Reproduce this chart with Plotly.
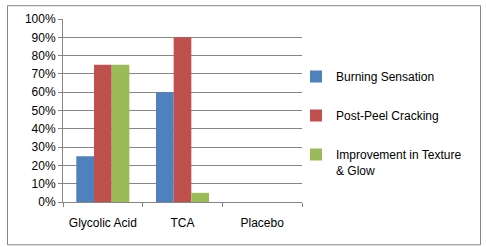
import plotly.graph_objects as go

categories = ["Glycolic Acid", "TCA", "Placebo"]
series_names = ["Burning Sensation", "Post-Peel Cracking", "Improvement in Texture<br>& Glow"]
burning = [0.25, 0.60, 0.0]
cracking = [0.75, 0.90, 0.0]
improvement = [0.75, 0.05, 0.0]
tick_vals = [i / 10 for i in range(11)]
tick_text = [f"{i*10}%" for i in range(11)]

colors = ["#4F81BD", "#C0504D", "#9BBB59"]

W, H = 486, 247
L, R, T, B = 63, 302, 16, 202

fig = go.Figure()
for name, vals, c in zip(series_names, [burning, cracking, improvement], colors):
    fig.add_trace(go.Bar(x=categories, y=vals, name=name, marker=dict(color=c, line=dict(width=0)),
                         legendgroup=name))

pw, ph = R - L, B - T
def px_x(x):
    return (x - L) / pw
def px_y(y):
    return (B - y) / ph

fig.update_layout(
    width=W, height=H,
    margin=dict(l=L, r=W - R, t=T, b=H - B, pad=0),
    paper_bgcolor="white", plot_bgcolor="white",
    barmode="group", bargap=0.334, bargroupgap=0,
    font=dict(family="Liberation Sans, Arial, sans-serif", size=12, color="#000000"),
    showlegend=True,
    legend=dict(x=px_x(296), y=px_y(60), xanchor="left", yanchor="top",
                tracegroupgap=20, itemwidth=30, valign="top",
                font=dict(size=12), bgcolor="rgba(0,0,0,0)"),
    xaxis=dict(showline=True, linecolor="#868686", linewidth=1, ticks="outside",
               tickson="boundaries", ticklen=4, tickcolor="#868686",
               showgrid=False, tickfont=dict(size=12), ticklabelstandoff=10),
    yaxis=dict(range=[0, 1], tickvals=tick_vals, ticktext=tick_text,
               showline=True, linecolor="#868686", linewidth=1, ticks="outside",
               ticklen=4, tickcolor="#868686", showgrid=True, gridcolor="#868686",
               gridwidth=1, zeroline=False, tickfont=dict(size=12), fixedrange=True),
    shapes=[dict(type="rect", xref="paper", yref="paper",
                 x0=px_x(7.5), x1=px_x(480.5), y0=px_y(245.5), y1=px_y(2.5),
                 line=dict(color="#868686", width=1), fillcolor="rgba(0,0,0,0)", layer="below")],
)

fig.write_html("out.html", config={"displayModeBar": False},
               post_script="document.body.style.margin='0';")
